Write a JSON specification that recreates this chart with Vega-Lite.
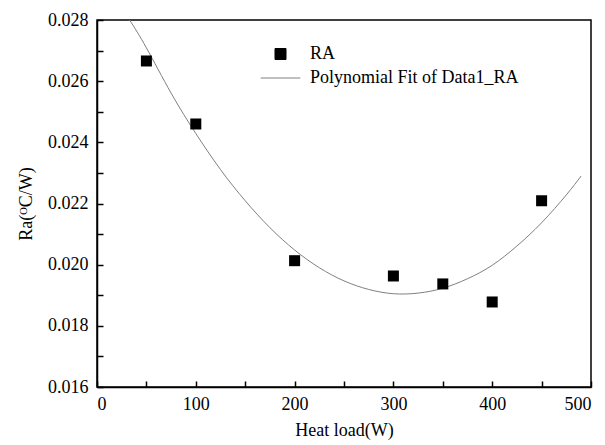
{
  "$schema": "https://vega.github.io/schema/vega-lite/v6.json",
  "autosize": {"type": "none"},
  "padding": {"left": 97, "top": 20, "right": 14, "bottom": 58},
  "width": 494,
  "height": 367,
  "background": "white",
  "config": {
    "view": {"stroke": "black", "strokeWidth": 1.5},
    "font": "Liberation Serif",
    "text": {"font": "Liberation Serif"},
    "axis": {
      "labelFontSize": 18,
      "titleFontSize": 18,
      "labelColor": "black",
      "titleColor": "black",
      "titleFontWeight": "normal",
      "domainColor": "black",
      "domainWidth": 1.5,
      "tickColor": "black",
      "tickWidth": 1.5,
      "ticks": true,
      "grid": false
    }
  },
  "datasets": {
    "pts": [
      {"load": 50, "ra": 0.02666, "series": "RA"},
      {"load": 100, "ra": 0.0246, "series": "RA"},
      {"load": 200, "ra": 0.02013, "series": "RA"},
      {"load": 300, "ra": 0.01963, "series": "RA"},
      {"load": 350, "ra": 0.01937, "series": "RA"},
      {"load": 400, "ra": 0.01878, "series": "RA"},
      {"load": 450, "ra": 0.02209, "series": "RA"}
    ],
    "fit": [
      {"load": 33, "ra": 0.0280, "series": "Polynomial Fit of Data1_RA"},
      {"load": 50, "ra": 0.02709, "series": "Polynomial Fit of Data1_RA"},
      {"load": 75, "ra": 0.02561, "series": "Polynomial Fit of Data1_RA"},
      {"load": 100, "ra": 0.02429, "series": "Polynomial Fit of Data1_RA"},
      {"load": 125, "ra": 0.02311, "series": "Polynomial Fit of Data1_RA"},
      {"load": 150, "ra": 0.02209, "series": "Polynomial Fit of Data1_RA"},
      {"load": 175, "ra": 0.02121, "series": "Polynomial Fit of Data1_RA"},
      {"load": 200, "ra": 0.02048, "series": "Polynomial Fit of Data1_RA"},
      {"load": 225, "ra": 0.0199, "series": "Polynomial Fit of Data1_RA"},
      {"load": 250, "ra": 0.01947, "series": "Polynomial Fit of Data1_RA"},
      {"load": 275, "ra": 0.01919, "series": "Polynomial Fit of Data1_RA"},
      {"load": 300, "ra": 0.01905, "series": "Polynomial Fit of Data1_RA"},
      {"load": 325, "ra": 0.01907, "series": "Polynomial Fit of Data1_RA"},
      {"load": 350, "ra": 0.01923, "series": "Polynomial Fit of Data1_RA"},
      {"load": 375, "ra": 0.01954, "series": "Polynomial Fit of Data1_RA"},
      {"load": 400, "ra": 0.01998, "series": "Polynomial Fit of Data1_RA"},
      {"load": 425, "ra": 0.02061, "series": "Polynomial Fit of Data1_RA"},
      {"load": 450, "ra": 0.02137, "series": "Polynomial Fit of Data1_RA"},
      {"load": 475, "ra": 0.02228, "series": "Polynomial Fit of Data1_RA"},
      {"load": 490, "ra": 0.0229, "series": "Polynomial Fit of Data1_RA"}
    ]
  },
  "encoding": {
    "x": {
      "field": "load", "type": "quantitative",
      "scale": {"domain": [0, 500], "nice": false, "zero": false},
      "axis": {
        "title": "Heat load(W)",
        "labelFont": "Liberation Serif",
        "titleFont": "Liberation Serif",
        "values": [0, 50, 100, 150, 200, 250, 300, 350, 400, 450, 500],
        "labelExpr": "datum.value % 100 === 0 ? datum.label : ''",
        "format": "d",
        "tickSize": -6,
        "labelPadding": 14,
        "titlePadding": 8
      }
    },
    "y": {
      "field": "ra", "type": "quantitative",
      "scale": {"domain": [0.016, 0.028], "nice": false, "zero": false},
      "axis": {
        "title": "Ra(ᴼC/W)",
        "labelFont": "Liberation Serif",
        "titleFont": "Liberation Serif",
        "values": [0.016, 0.017, 0.018, 0.019, 0.020, 0.021, 0.022, 0.023, 0.024, 0.025, 0.026, 0.027, 0.028],
        "labelExpr": "round(datum.value * 1000) % 2 === 0 ? format(datum.value, '.3f') : ''",
        "tickSize": -6,
        "labelPadding": 15,
        "titlePadding": 12
      }
    },
    "color": {
      "field": "series", "type": "nominal",
      "scale": {"domain": ["RA", "Polynomial Fit of Data1_RA"], "range": ["black", "#808080"]},
      "legend": {
        "orient": "none",
        "legendX": 174.5,
        "legendY": 25,
        "title": null,
        "padding": 0,
        "labelFont": "Liberation Serif",
        "labelFontSize": 18,
        "labelColor": "black",
        "labelLimit": 0,
        "symbolSize": 121,
        "labelOffset": 20.5,
        "rowPadding": 6,
        "encode": {
          "symbols": {
            "update": {
              "shape": {"signal": "datum.value === 'RA' ? 'square' : 'M-3.6,0H3.6'"},
              "fill": {"signal": "datum.value === 'RA' ? 'black' : 'transparent'"},
              "stroke": {"signal": "datum.value === 'RA' ? 'transparent' : '#808080'"},
              "strokeWidth": {"value": 1},
              "opacity": {"value": 1}
            }
          }
        }
      }
    }
  },
  "layer": [
    {
      "data": {"name": "fit"},
      "mark": {"type": "line", "strokeWidth": 1, "clip": true, "interpolate": "natural"}
    },
    {
      "data": {"name": "pts"},
      "mark": {"type": "point", "shape": "square", "filled": true, "size": 121, "opacity": 1}
    }
  ]
}
